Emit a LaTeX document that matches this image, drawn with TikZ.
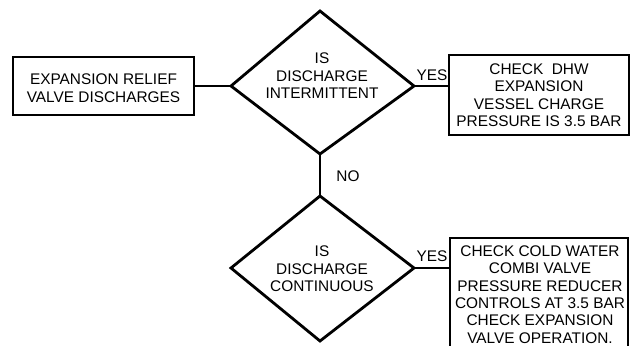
\documentclass[tikz,border=0pt]{standalone}
\usepackage{fontspec}
\setmainfont{Liberation Sans}
\begin{document}
\begin{tikzpicture}[x=1pt,y=-1pt,
  line width=2.8pt, line join=miter,
  txt/.style={font=\fontsize{15.4pt}{17.4pt}\selectfont, align=center, inner sep=0pt},
  boxnode/.style={draw, rectangle, inner sep=0pt},
  lbl/.style={font=\fontsize{15.4pt}{17.4pt}\selectfont, inner sep=0pt}]
\useasboundingbox (0,0) rectangle (636,345);
\clip (0,0) rectangle (636,345);
% start box
\node[boxnode, minimum width=181pt, minimum height=58pt] (b1) at (103.5,86) {};
\node[txt] (t1) at (103.5,88) {EXPANSION RELIEF\\VALVE DISCHARGES};
% diamond 1
\coordinate (d1w) at (231,86);
\coordinate (d1n) at (320,11);
\coordinate (d1e) at (414,86);
\coordinate (d1s) at (320,154);
\draw (d1w) -- (d1n) -- (d1e) -- (d1s) -- cycle;
\node[txt] (t2) at (322,76) {IS\\DISCHARGE\\INTERMITTENT};
% box 2
\node[boxnode, minimum width=180pt, minimum height=80pt] (b2) at (539,95) {};
\node[txt] (t3) at (539,95) {CHECK\ \ DHW\\EXPANSION\\VESSEL CHARGE\\PRESSURE IS 3.5 BAR};
% diamond 2
\coordinate (d2w) at (231,268);
\coordinate (d2n) at (320,196);
\coordinate (d2e) at (414,268);
\coordinate (d2s) at (320,341);
\draw (d2w) -- (d2n) -- (d2e) -- (d2s) -- cycle;
\node[txt] (t4) at (322,269) {IS\\DISCHARGE\\CONTINUOUS};
% box 3 (cut off at the bottom)
\node[boxnode, minimum width=178pt, minimum height=130pt] (b3) at (539,303) {};
\node[txt] (t5) at (540,294.5) {CHECK COLD WATER\\COMBI VALVE\\PRESSURE REDUCER\\CONTROLS AT 3.5 BAR\\CHECK EXPANSION\\VALVE OPERATION.};
% connectors
\draw (b1.east) -- (d1w);
\draw (d1e) -- (d1e -| b2.west);
\draw (d1s) -- (d2n);
\draw (d2e) -- (d2e -| b3.west);
% labels
\node[lbl] (y1) at (432,75) {YES};
\node[lbl] (y2) at (432,256) {YES};
\node[lbl] (n1) at (348,176) {NO};
\end{tikzpicture}
\end{document}
